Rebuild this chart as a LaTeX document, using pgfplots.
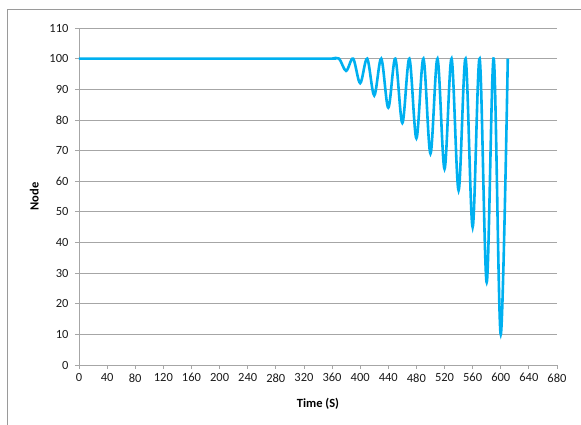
\documentclass[border=0pt]{standalone}
\usepackage{fontspec}
\setmainfont{Carlito}[Numbers=Lining]
\usepackage{pgfplots}
\pgfplotsset{compat=1.18}
\definecolor{linecol}{HTML}{00B0F0}
\definecolor{gridcol}{HTML}{A6A6A6}
\definecolor{framecol}{HTML}{9A9A9A}
\begin{document}
\begin{tikzpicture}[x=1pt,y=1pt]
\useasboundingbox (-79,-60) rectangle (502,365);
\draw[framecol, line width=0.8pt] (-72,-60) -- (-72,356) -- (502,356);
\begin{axis}[
  at={(0,0)}, anchor=south west,
  width=478pt, height=337pt, scale only axis,
  xmin=0, xmax=680, ymin=0, ymax=110,
  xtick distance=40, ytick distance=10,
  axis x line*=bottom, axis y line*=left,
  axis line style={gridcol, line width=0.8pt, -},
  ymajorgrids, grid style={gridcol, line width=0.8pt},
  tick style={gridcol, line width=0.8pt},
  tick align=outside, major tick length=4pt,
  /pgf/number format/assume math mode=true,
  ticklabel style={font=\fontsize{12.5}{14}\selectfont, text=black!90},
  xticklabel style={yshift=-1pt},
  yticklabel style={xshift=-3pt},
  xlabel={\textbf{Time (S)}}, ylabel={\textbf{Node}},
  label style={font=\fontsize{12.5}{14}\selectfont},
  xlabel style={yshift=-9pt},
  ylabel style={yshift=4pt},
  clip=false,
]
\addplot[linecol, line width=2.6pt, smooth, tension=0.55] coordinates {
(0,100) (340,100) (350,100) (360,100) (370,100)
(380,96) (390,100) (400,92) (410,100) (420,88) (430,100)
(440,84) (450,100) (460,79) (470,100) (480,74) (490,100)
(500,69) (510,100) (520,64) (530,100) (540,57) (550,100)
(560,45) (570,100) (580,27) (590,100) (600,10) (610,100)
};
\end{axis}
\end{tikzpicture}
\end{document}
